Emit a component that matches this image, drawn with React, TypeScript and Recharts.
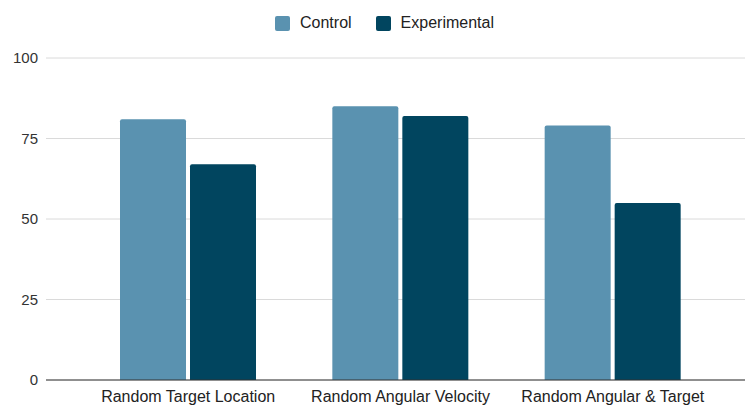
import React from "react";
import { BarChart, Bar, XAxis, YAxis, CartesianGrid, Legend } from "recharts";

const categories = [
  "Random Target Location",
  "Random Angular Velocity",
  "Random Angular & Target",
];
const controlValues = [81, 85, 79];
const experimentalValues = [67, 82, 55];
const yTicks = [0, 25, 50, 75, 100];

const series = [
  { key: "control", name: "Control", color: "#5a92b0" },
  { key: "experimental", name: "Experimental", color: "#01455f" },
];

const data = categories.map((name, i) => ({
  name,
  control: controlValues[i],
  experimental: experimentalValues[i],
}));

const FONT = "Arial, 'Liberation Sans', Helvetica, sans-serif";

const LegendContent = () => (
  <div
    style={{
      height: 50,
      display: "flex",
      justifyContent: "center",
      alignItems: "flex-start",
      paddingTop: 7,
      paddingLeft: 24,
      boxSizing: "border-box",
      fontFamily: FONT,
      fontSize: 16,
      color: "#222",
    }}
  >
    {series.map((s, i) => (
      <div
        key={s.key}
        style={{
          display: "flex",
          alignItems: "center",
          marginLeft: i === 0 ? 0 : 24,
        }}
      >
        <span
          style={{
            width: 15,
            height: 15,
            background: s.color,
            borderRadius: 2,
            display: "inline-block",
            marginRight: 10,
          }}
        />
        <span style={{ lineHeight: "16px" }}>{s.name}</span>
      </div>
    ))}
  </div>
);

export default function App() {
  return (
    <div style={{ position: "absolute", left: 0, top: 0, background: "#fff" }}>
      <BarChart
        width={745}
        height={409}
        data={data}
        margin={{ top: 8, right: 0, bottom: 0, left: 0 }}
        barSize={66}
        barGap={4}
      >
        <CartesianGrid vertical={false} stroke="#dadada" strokeWidth={1} />
        <XAxis
          dataKey="name"
          height={29}
          padding={{ left: 36, right: 26 }}
          axisLine={{ stroke: "#333", strokeWidth: 1 }}
          tickLine={false}
          tickMargin={5}
          tick={{ fill: "#222", fontSize: 16, fontFamily: FONT }}
          interval={0}
        />
        <YAxis
          width={46}
          domain={[0, 100]}
          ticks={yTicks}
          axisLine={false}
          tickLine={false}
          tick={{ fill: "#333", fontSize: 15, fontFamily: FONT }}
        />
        <Legend verticalAlign="top" height={50} content={<LegendContent />} />
        {series.map((s) => (
          <Bar
            key={s.key}
            dataKey={s.key}
            name={s.name}
            fill={s.color}
            radius={[2, 2, 0, 0]}
            isAnimationActive={false}
          />
        ))}
      </BarChart>
    </div>
  );
}
